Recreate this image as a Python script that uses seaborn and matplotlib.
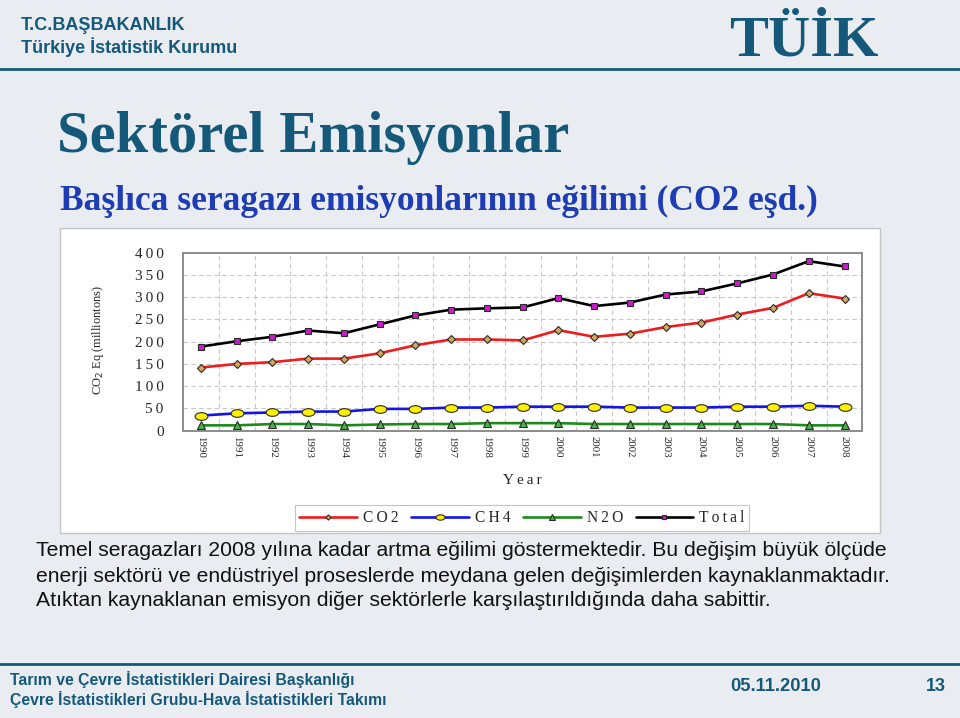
import matplotlib
matplotlib.use("Agg")
import matplotlib.pyplot as plt
import seaborn as sns
import numpy as np
import pandas as pd
from matplotlib.path import Path
from matplotlib.transforms import Affine2D
from matplotlib.patches import Rectangle
from matplotlib.lines import Line2D
from matplotlib.ticker import FixedLocator, FuncFormatter

# ---------------- data ----------------
years = list(range(1990, 2009))
co2 = [142, 150, 154, 162, 162, 174, 192, 205, 205, 203, 226, 211, 218, 233, 243, 261, 276, 309, 297]
ch4 = [34, 39, 41, 43, 43, 49, 49, 52, 52, 54, 54, 54, 52, 52, 52, 54, 54, 56, 54]
n2o = [12, 12, 15, 15, 12, 14, 15, 15, 17, 17, 17, 15, 15, 15, 15, 15, 15, 12, 12]
total = [189, 201, 211, 225, 219, 239, 259, 272, 275, 277, 298, 280, 288, 306, 313, 331, 351, 381, 369]
series_names = ["CO2", "CH4", "N2O", "Total"]
yticks = [0, 50, 100, 150, 200, 250, 300, 350, 400]

header1 = "T.C.BAŞBAKANLIK"
header2 = "Türkiye İstatistik Kurumu"
logo = "TÜİK"
title = "Sektörel Emisyonlar"
subtitle = "Başlıca seragazı emisyonlarının eğilimi (CO2 eşd.)"
ylabel = r"CO$_2$ Eq (milliontons)"
xlabel = "Year"
body = ["Temel seragazları 2008 yılına kadar artma eğilimi göstermektedir. Bu değişim büyük ölçüde",
        "enerji sektörü ve endüstriyel proseslerde meydana gelen değişimlerden kaynaklanmaktadır.",
        "Atıktan kaynaklanan emisyon diğer sektörlerle karşılaştırıldığında daha sabittir."]
footer1 = "Tarım ve Çevre İstatistikleri Dairesi Başkanlığı"
footer2 = "Çevre İstatistikleri Grubu-Hava İstatistikleri Takımı"
date_txt = "05.11.2010"
page_txt = "13"

# ---------------- style ----------------
sns.set_style("white")
W, H = 960, 718
BG = "#E9ECF1"
TEAL = "#15597A"
SERIF = ["Liberation Serif", "DejaVu Serif"]
SANS = ["Liberation Sans", "DejaVu Sans"]
plt.rcParams["font.family"] = SANS
THIN = "\u2009"


def spaced(s):
    return THIN.join(list(s))


def fx(x):
    return x / W


def fy(y):
    return 1 - y / H


fig = plt.figure(figsize=(W / 100, H / 100), dpi=100, facecolor=BG)

# header / footer rules
fig.add_artist(Line2D([0, 1], [fy(68.5), fy(68.5)], color=TEAL, lw=2.0))
fig.add_artist(Line2D([0, 1], [fy(664), fy(664)], color=TEAL, lw=2.0))

# chart panel
fig.add_artist(Rectangle((fx(60), fy(533)), 820 / W, 305 / H, transform=fig.transFigure,
                         facecolor="white", edgecolor="#C4C4C4", lw=1.0, zorder=0))

# header texts
fig.text(fx(21), fy(30), header1, family=SANS, weight="bold", fontsize=13, color=TEAL, va="baseline")
fig.text(fx(21), fy(53), header2, family=SANS, weight="bold", fontsize=13, color=TEAL, va="baseline")
fig.text(fx(729), fy(55.5), logo, family=SERIF, weight="bold", fontsize=42, color=TEAL, va="baseline")
fig.text(fx(57), fy(152), title, family=SERIF, weight="bold", fontsize=42.2, color=TEAL, va="baseline")
fig.text(fx(60), fy(210), subtitle, family=SERIF, weight="bold", fontsize=25.5, color="#1E3CB4", va="baseline")

# ---------------- chart ----------------
ax = fig.add_axes([fx(183), fy(430.7), 679.4 / W, 178 / H])
ax.set_facecolor("white")

ell = Path.unit_circle().transformed(Affine2D().scale(1.0, 0.6))
styles = {
    "CO2": dict(color="#EE1C1C", marker="D", markersize=3.8, markerfacecolor="#D9A35A"),
    "CH4": dict(color="#1414E6", marker=ell, markersize=9.2, markerfacecolor="#FFF000"),
    "N2O": dict(color="#1C8A1C", marker="^", markersize=6.0, markerfacecolor="#46B446"),
    "Total": dict(color="#000000", marker="s", markersize=5.0, markerfacecolor="#C81EC8"),
}
values = {"CO2": co2, "CH4": ch4, "N2O": n2o, "Total": total}
for name in series_names:
    st = styles[name]
    sns.lineplot(x=years, y=values[name], ax=ax, lw=1.9, markeredgecolor="#2A2A2A",
                 markeredgewidth=0.8, label=spaced(name), zorder=3, **st)

ax.set_xlim(1989.5, 2008.5)
ax.set_ylim(0, 400)
ax.set_xticks(years)
ax.xaxis.set_minor_locator(FixedLocator(np.arange(1990.5, 2008.5, 1.0)))
ax.set_yticks(yticks)
ax.yaxis.set_major_formatter(FuncFormatter(lambda v, p: spaced(str(int(v)))))
ax.set_xticklabels([str(y) for y in years], rotation=270, fontsize=7.8, family=SERIF)
for lab in ax.get_yticklabels():
    lab.set_family(SERIF)
    lab.set_fontsize(11)
ax.tick_params(axis="x", which="major", length=0, pad=4)
ax.tick_params(axis="x", which="minor", length=4, color="#8C8C8C", width=1)
ax.tick_params(axis="y", which="major", length=5, color="#8C8C8C", width=1, pad=9)
ax.grid(False)
ax.grid(axis="y", which="major", ls=(0, (4, 3)), color="#C8C8C8", lw=0.8)
ax.grid(axis="x", which="minor", ls=(0, (4, 3)), color="#C8C8C8", lw=0.8)
for sp in ax.spines.values():
    sp.set_visible(True)
    sp.set_color("#8C8C8C")
    sp.set_linewidth(1.4)
ax.set_xlabel("")
ax.set_ylabel("")

handles, labels = ax.get_legend_handles_labels()
if ax.get_legend() is not None:
    ax.get_legend().remove()
leg = fig.legend(handles, labels, loc="center", bbox_to_anchor=(fx(522), fy(518)), ncol=4,
                 frameon=True, fancybox=False, edgecolor="#C4C4C4", framealpha=1,
                 handlelength=3.7, handletextpad=0.4, columnspacing=0.8, markerscale=0.7,
                 borderpad=0.3, prop={"family": SERIF, "size": 11.2})
leg.get_frame().set_linewidth(0.8)

fig.text(fx(98), fy(340), ylabel, family=SERIF, fontsize=9, rotation=90, ha="center", va="center")
fig.text(fx(522), fy(480), spaced(xlabel), family=SERIF, fontsize=11, ha="center", va="center")

# body text
for i, line in enumerate(body):
    fig.text(fx(36), fy(551 + 25 * i), line, family=SANS, fontsize=15.2, color="#111111", va="center")

# footer
fig.text(fx(10), fy(684.5), footer1, family=SANS, weight="bold", fontsize=11.3, color=TEAL, va="baseline")
fig.text(fx(10), fy(705.5), footer2, family=SANS, weight="bold", fontsize=11.3, color=TEAL, va="baseline")
fig.text(fx(730), fy(691), date_txt, family=SANS, weight="bold", fontsize=13.2, color=TEAL, va="baseline")
fig.text(fx(946), fy(691), page_txt, family=SANS, weight="bold", fontsize=13, color=TEAL, va="baseline", ha="right")

fig.savefig("out.png", dpi=100, facecolor=BG)
